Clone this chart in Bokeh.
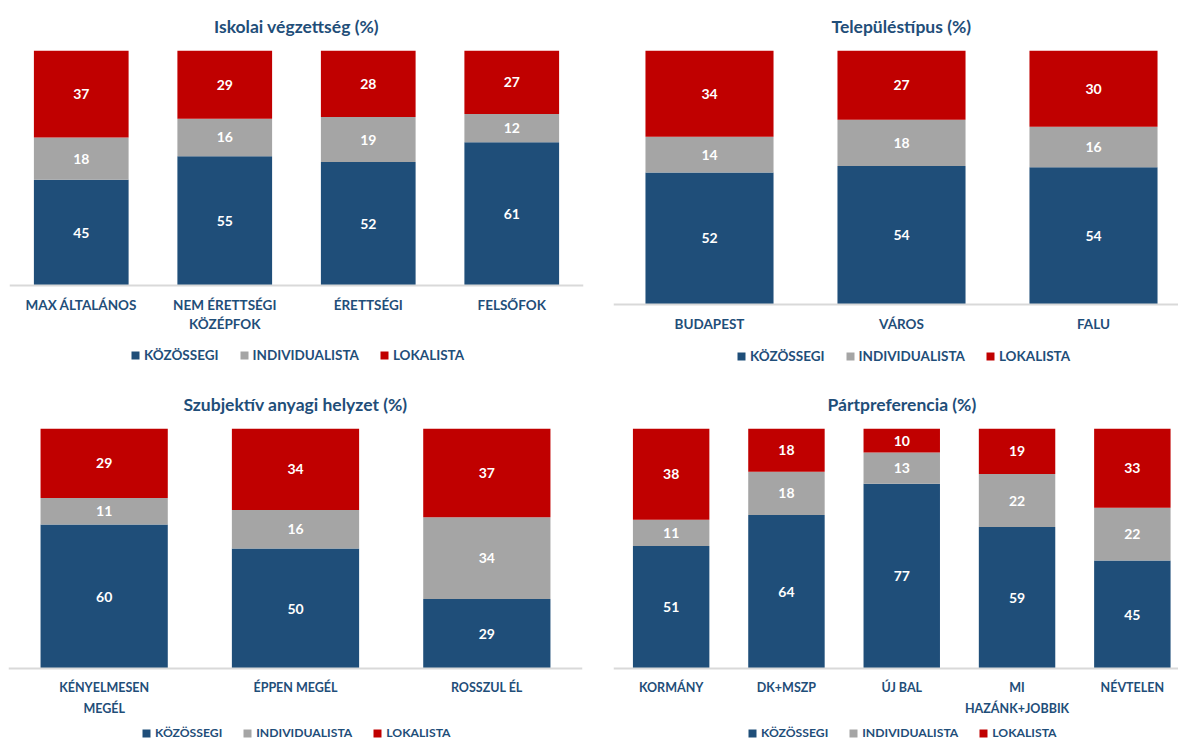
from bokeh.plotting import figure
from bokeh.models import ColumnDataSource, Range1d, FixedTicker, Legend, LegendItem
from bokeh.layouts import column, row
from bokeh.embed import file_html
from bokeh.resources import INLINE
from bokeh.core.properties import value

# ---------------- data ----------------
series = ["KÖZÖSSEGI", "INDIVIDUALISTA", "LOKALISTA"]
colors = ["#1F4E79", "#A5A5A5", "#C00000"]

edu_title = "Iskolai végzettség (%)"
edu_cats = ["MAX ÁLTALÁNOS", "NEM ÉRETTSÉGI\nKÖZÉPFOK", "ÉRETTSÉGI", "FELSŐFOK"]
edu_koz = [45, 55, 52, 61]
edu_ind = [18, 16, 19, 12]
edu_lok = [37, 29, 28, 27]

set_title = "Településtípus (%)"
set_cats = ["BUDAPEST", "VÁROS", "FALU"]
set_koz = [52, 54, 54]
set_ind = [14, 18, 16]
set_lok = [34, 27, 30]

fin_title = "Szubjektív anyagi helyzet (%)"
fin_cats = ["KÉNYELMESEN\nMEGÉL", "ÉPPEN MEGÉL", "ROSSZUL ÉL"]
fin_koz = [60, 50, 29]
fin_ind = [11, 16, 34]
fin_lok = [29, 34, 37]

par_title = "Pártpreferencia (%)"
par_cats = ["KORMÁNY", "DK+MSZP", "ÚJ BAL", "MI\nHAZÁNK+JOBBIK", "NÉVTELEN"]
par_koz = [51, 64, 77, 59, 45]
par_ind = [11, 18, 13, 22, 22]
par_lok = [38, 18, 10, 19, 33]

TEXT = "#1F4E79"
FONT = "Lato"


def make_panel(title, cats, koz, ind, lok, width, height, bl, br, bt,
               x_end, y_start, bar_w, title_align, title_offset, label_size, label_lh,
               label_standoff, legend_size, legend_xy):
    n = len(cats)
    xs = list(range(n))
    tot = [a + b + c for a, b, c in zip(koz, ind, lok)]
    k = [a / t * 100 for a, t in zip(koz, tot)]
    i = [b / t * 100 for b, t in zip(ind, tot)]
    l = [c / t * 100 for c, t in zip(lok, tot)]
    src = ColumnDataSource(dict(x=xs, k=k, i=i, l=l))

    p = figure(width=width, height=height, output_backend="svg", toolbar_location=None,
               x_range=Range1d(-0.5, x_end), y_range=Range1d(y_start, 100),
               y_axis_location=None, min_border_left=bl, min_border_right=br,
               min_border_top=bt, min_border_bottom=0, tools="")
    p.outline_line_color = None
    p.grid.visible = False
    p.background_fill_color = "white"
    p.border_fill_color = "white"

    rs = p.vbar_stack(["k", "i", "l"], x="x", width=bar_w, source=src,
                      color=colors, line_color=None)

    # value labels centred in each segment
    ys, txt, lx = [], [], []
    for j in range(n):
        base = 0
        for seg, raw in ((k[j], koz[j]), (i[j], ind[j]), (l[j], lok[j])):
            ys.append(base + seg / 2)
            txt.append(str(raw))
            lx.append(xs[j])
            base += seg
    p.text(x=lx, y=ys, text=txt, text_align="center", text_baseline="middle",
           text_color="white", text_font=value(FONT), text_font_style="bold",
           text_font_size="14px")

    p.title.text = title
    p.title.align = title_align
    p.title.text_font = FONT
    p.title.text_font_size = "17.5px"
    p.title.text_font_style = "bold"
    p.title.text_color = TEXT
    p.title.offset = title_offset
    p.title.vertical_align = "top"
    p.title.standoff = 24

    ax = p.xaxis[0]
    ax.fixed_location = 0
    ax.ticker = FixedTicker(ticks=xs)
    ax.major_label_overrides = {x: c for x, c in zip(xs, cats)}
    ax.major_tick_line_color = None
    ax.minor_tick_line_color = None
    ax.axis_line_color = "#D9D9D9"
    ax.axis_line_width = 2
    ax.major_label_text_font = FONT
    ax.major_label_text_font_style = "bold"
    ax.major_label_text_font_size = label_size
    ax.major_label_text_color = TEXT
    ax.major_label_standoff = label_standoff
    ax.major_label_text_line_height = label_lh

    legend = Legend(items=[LegendItem(label=s, renderers=[r]) for s, r in zip(series, rs)],
                    orientation="horizontal", location=legend_xy,
                    glyph_width=10, glyph_height=10, label_standoff=4, spacing=20,
                    padding=0, margin=0, border_line_color=None,
                    background_fill_alpha=0, label_text_font=FONT,
                    label_text_font_style="bold", label_text_font_size=legend_size,
                    label_text_color=TEXT, label_height=10)
    p.add_layout(legend)
    return p


p1 = make_panel(edu_title, edu_cats, edu_koz, edu_ind, edu_lok, 600, 378, 9, 17, 50,
                3.5, -(378 - 285) / 2.35, 0.66, "center", 0, "13.5px", 1.19, 5, "13.5px", (121, 15))
p2 = make_panel(set_title, set_cats, set_koz, set_ind, set_lok, 578, 378, 13, 0, 50,
                -0.5 + 565 / 192, -(378 - 304) / 2.54, 0.667, "left", 218, "13.5px", 1.19, 5, "13.5px", (123, 14))
p3 = make_panel(fin_title, fin_cats, fin_koz, fin_ind, fin_lok, 600, 362, 8, 18, 50,
                2.5, -72 / 2.4, 0.665, "center", 0, "12.5px", 1.40, 5, "12.2px", (133, 0))
p4 = make_panel(par_title, par_cats, par_koz, par_ind, par_lok, 578, 362, 13, 0, 50,
                -0.5 + 565 / 115.3, -72 / 2.4, 0.663, "left", 214, "12.5px", 1.40, 5, "12.2px", (134, 0))

layout = column(row(p1, p2), row(p3, p4))
open("out.html", "w").write(file_html(layout, INLINE))
